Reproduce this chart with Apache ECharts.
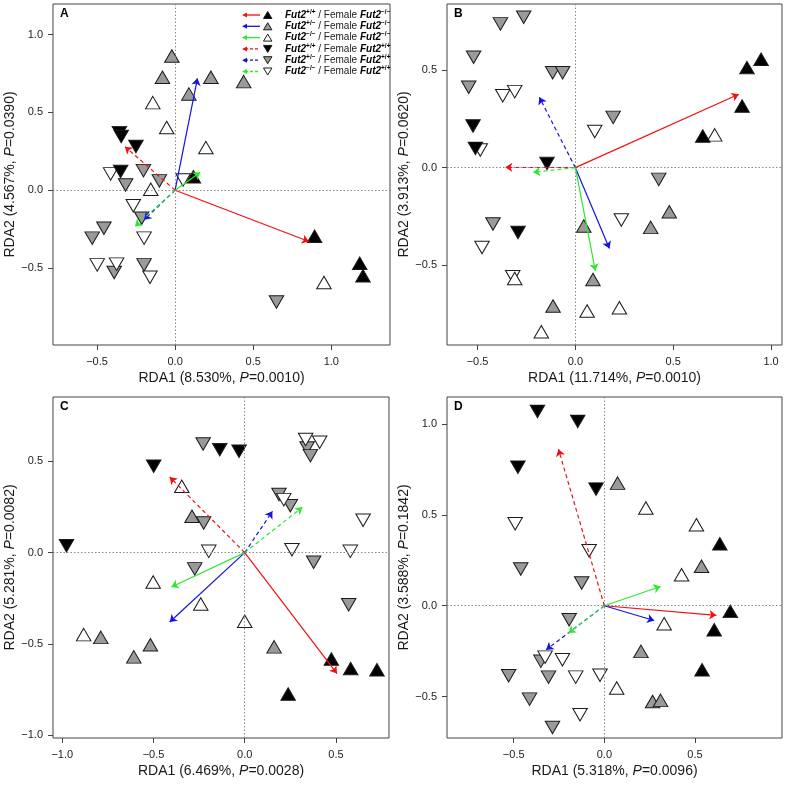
<!DOCTYPE html>
<html>
<head>
<meta charset="utf-8">
<script src="https://cdn.jsdelivr.net/npm/echarts@6/dist/echarts.min.js"></script>
<style>html,body{margin:0;padding:0;background:#fff}#c{width:787px;height:786px}</style>
</head>
<body>
<div id="c"></div>
<script>
// ---------- DATA ----------
// Groups: g1 Fut2+/+ / Female Fut2-/-, g2 Fut2+/- / Female Fut2-/-, g3 Fut2-/- / Female Fut2-/-,
//         g4 Fut2+/+ / Female Fut2+/+, g5 Fut2+/- / Female Fut2+/+, g6 Fut2-/- / Female Fut2+/+
const groupNames = ['Fut2+/+ / Female Fut2-/-','Fut2+/- / Female Fut2-/-','Fut2-/- / Female Fut2-/-',
                    'Fut2+/+ / Female Fut2+/+','Fut2+/- / Female Fut2+/+','Fut2-/- / Female Fut2+/+'];
const legendSup1 = ['+/+','+/\u2212','\u2212/\u2212','+/+','+/\u2212','\u2212/\u2212'];
const legendSup2 = ['\u2212/\u2212','\u2212/\u2212','\u2212/\u2212','+/+','+/+','+/+'];

// Panel A
const A_g1 = [[0.117,0.087],[0.893,-0.296],[1.182,-0.469],[1.203,-0.55]];
const A_g2 = [[-0.021,0.863],[-0.081,0.726],[0.229,0.726],[0.439,0.698],[0.088,0.619]];
const A_g3 = [[-0.143,0.563],[-0.054,0.403],[0.197,0.274],[-0.156,0.006],[0.953,-0.593]];
const A_g4 = [[-0.357,0.37],[-0.345,0.345],[-0.251,0.281],[-0.349,0.12]];
const A_g5 = [[-0.203,0.126],[-0.317,0.034],[-0.101,0.06],[-0.214,-0.18],[-0.456,-0.244],[-0.531,-0.308],[-0.39,-0.529],[-0.199,-0.48],[0.649,-0.719]];
const A_g6 = [[0.051,0.066],[-0.413,0.105],[-0.268,-0.1],[-0.199,-0.308],[-0.499,-0.48],[-0.375,-0.475],[-0.161,-0.559]];
const A_arrows = [[0.857,-0.33],[0.143,0.719],[0.161,0.116],[-0.321,0.28],[-0.199,-0.19],[-0.257,-0.233]];

// Panel B
const B_g1 = [[0.949,0.556],[0.877,0.513],[0.852,0.316],[0.651,0.162]];
const B_g2 = [[0.043,-0.299],[0.385,-0.306],[0.48,-0.226],[0.09,-0.573],[-0.114,-0.709]];
const B_g3 = [[0.712,0.168],[0.06,-0.735],[0.225,-0.718],[-0.174,-0.841],[-0.31,-0.568]];
const B_g4 = [[-0.523,0.214],[-0.511,0.099],[-0.145,0.022],[-0.293,-0.332]];
const B_g5 = [[-0.264,0.771],[-0.383,0.737],[-0.52,0.566],[-0.545,0.412],[-0.116,0.487],[-0.065,0.487],[0.193,0.258],[0.426,-0.06],[-0.421,-0.289]];
const B_g6 = [[-0.371,0.369],[-0.31,0.39],[-0.486,0.091],[0.099,0.185],[0.235,-0.268],[-0.477,-0.409],[-0.32,-0.559]];
const B_arrows = [[0.835,0.376],[0.174,-0.414],[0.102,-0.528],[-0.358,0.002],[-0.184,0.361],[-0.216,-0.024]];

// Panel C
const C_g1 = [[0.475,-0.582],[0.581,-0.635],[0.725,-0.641],[0.238,-0.774]];
const C_g2 = [[-0.289,0.199],[0.161,-0.516],[-0.517,-0.504],[-0.789,-0.464],[-0.608,-0.571]];
const C_g3 = [[-0.345,0.363],[-0.502,-0.161],[-0.241,-0.281],[0.0,-0.376],[-0.883,-0.449]];
const C_g4 = [[-0.977,0.038],[-0.499,0.473],[-0.137,0.564],[-0.031,0.555]];
const C_g5 = [[-0.228,0.595],[-0.225,0.162],[-0.274,-0.089],[0.342,0.573],[0.36,0.531],[0.188,0.318],[0.25,0.257],[0.378,-0.053],[0.57,-0.285]];
const C_g6 = [[0.334,0.619],[0.411,0.604],[0.214,0.29],[-0.197,0.007],[0.259,0.016],[0.579,0.007],[0.649,0.177]];
const C_arrows = [[0.506,-0.662],[-0.411,-0.38],[-0.402,-0.188],[-0.411,0.414],[0.152,0.226],[0.316,0.248]];

// Panel D
const D_g1 = [[0.637,0.341],[0.695,-0.031],[0.606,-0.132],[0.539,-0.352]];
const D_g2 = [[0.073,0.675],[0.536,0.217],[0.202,-0.251],[0.266,-0.527],[0.31,-0.521]];
const D_g3 = [[0.229,0.538],[0.508,0.446],[0.426,0.171],[0.33,-0.099],[0.068,-0.453]];
const D_g4 = [[-0.369,1.07],[-0.147,1.015],[-0.477,0.763],[-0.046,0.642]];
const D_g5 = [[-0.461,0.202],[-0.125,0.125],[-0.194,-0.077],[-0.35,-0.306],[-0.528,-0.385],[-0.308,-0.393],[-0.413,-0.514],[-0.286,-0.67]];
const D_g6 = [[-0.492,0.451],[-0.084,0.303],[-0.327,-0.283],[-0.231,-0.297],[-0.158,-0.393],[-0.024,-0.383],[-0.134,-0.6]];
const D_arrows = [[0.618,-0.053],[0.275,-0.081],[0.31,0.106],[-0.253,0.862],[-0.321,-0.242],[-0.198,-0.15]];

// Ticks
const A_xTicks = [-0.5,0,0.5,1.0], A_yTicks = [-0.5,0,0.5,1.0];
const B_xTicks = [-0.5,0,0.5,1.0], B_yTicks = [-0.5,0,0.5];
const C_xTicks = [-1.0,-0.5,0,0.5], C_yTicks = [-1.0,-0.5,0,0.5];
const D_xTicks = [-0.5,0,0.5], D_yTicks = [-0.5,0,0.5,1.0];

// Axis titles
const A_xTitle = ['RDA1 (8.530%, ','P','=0.0010)'], A_yTitle = ['RDA2 (4.567%, ','P','=0.0390)'];
const B_xTitle = ['RDA1 (11.714%, ','P','=0.0010)'], B_yTitle = ['RDA2 (3.913%, ','P','=0.0620)'];
const C_xTitle = ['RDA1 (6.469%, ','P','=0.0028)'], C_yTitle = ['RDA2 (5.281%, ','P','=0.0082)'];
const D_xTitle = ['RDA1 (5.318%, ','P','=0.0096)'], D_yTitle = ['RDA2 (3.588%, ','P','=0.1842)'];
const panelLabels = ['A','B','C','D'];

// ---------- STYLE / LAYOUT ----------
const FONT = "'Liberation Sans', Arial, Helvetica, sans-serif";
const RED = '#f01010', BLUE = '#1414e0', GREEN = '#2ee82e';
const GROUP_STYLE = [
  {fill:'#000000', rot:0,   color:RED,   dash:'solid'},
  {fill:'#9a9a9a', rot:0,   color:BLUE,  dash:'solid'},
  {fill:'#ffffff', rot:0,   color:GREEN, dash:'solid'},
  {fill:'#000000', rot:180, color:RED,   dash:[4,3]},
  {fill:'#9a9a9a', rot:180, color:BLUE,  dash:[4,3]},
  {fill:'#ffffff', rot:180, color:GREEN, dash:[4,3]}
];
const PANELS = [
  {grid:{left:53, top:4, width:337, height:341},  xr:[-0.782,1.376], yr:[-0.995,1.197], xt:A_xTicks, yt:A_yTicks, xn:A_xTitle, yn:A_yTitle, groups:[A_g1,A_g2,A_g3,A_g4,A_g5,A_g6], arrows:A_arrows},
  {grid:{left:447, top:4, width:335, height:341}, xr:[-0.656,1.056], yr:[-0.909,0.839], xt:B_xTicks, yt:B_yTicks, xn:B_xTitle, yn:B_yTitle, groups:[B_g1,B_g2,B_g3,B_g4,B_g5,B_g6], arrows:B_arrows},
  {grid:{left:53, top:397, width:336, height:341}, xr:[-1.051,0.791], yr:[-1.015,0.852], xt:C_xTicks, yt:C_yTicks, xn:C_xTitle, yn:C_yTitle, groups:[C_g1,C_g2,C_g3,C_g4,C_g5,C_g6], arrows:C_arrows},
  {grid:{left:447, top:397, width:335, height:341}, xr:[-0.868,0.98], yr:[-0.728,1.149], xt:D_xTicks, yt:D_yTicks, xn:D_xTitle, yn:D_yTitle, groups:[D_g1,D_g2,D_g3,D_g4,D_g5,D_g6], arrows:D_arrows}
];
const DRAW_ORDER = [4,5,1,2,3,0];

function fmt(v){ return (v<0?'\u2212':'') + Math.abs(v).toFixed(1); }
function titleText(t){ return t[0] + '{i|' + t[1] + '}' + t[2]; }
const nameStyle = {fontSize:14, color:'#1a1a1a', fontFamily:FONT,
  rich:{i:{fontStyle:'italic', fontSize:14, color:'#1a1a1a', fontFamily:FONT}}};

const grids=[], xAxes=[], yAxes=[], series=[];
PANELS.forEach((p,i)=>{
  grids.push(Object.assign({show:true, borderColor:'#444', borderWidth:1, backgroundColor:'transparent', containLabel:false}, p.grid));
  const common = {
    gridIndex:i, type:'value', scale:false,
    axisLine:{show:false, onZero:false},
    axisTick:{show:true, length:5, lineStyle:{color:'#444', width:1}, customValues:null},
    axisLabel:{fontSize:11, color:'#222', fontFamily:FONT, formatter:fmt},
    splitLine:{show:false},
    nameLocation:'middle', nameTextStyle:nameStyle
  };
  xAxes.push(Object.assign({}, common, {
    min:p.xr[0], max:p.xr[1], position:'bottom',
    axisTick:Object.assign({}, common.axisTick, {customValues:p.xt}),
    axisLabel:Object.assign({}, common.axisLabel, {customValues:p.xt, margin:11}),
    name:titleText(p.xn), nameGap:26
  }));
  yAxes.push(Object.assign({}, common, {
    min:p.yr[0], max:p.yr[1], position:'left',
    axisTick:Object.assign({}, common.axisTick, {customValues:p.yt}),
    axisLabel:Object.assign({}, common.axisLabel, {customValues:p.yt, margin:10}),
    name:titleText(p.yn), nameGap:33, nameRotate:90
  }));
  // zero reference lines
  series.push({type:'scatter', xAxisIndex:i, yAxisIndex:i, data:[], z:1, silent:true,
    markLine:{silent:true, symbol:'none', label:{show:false}, animation:false,
      lineStyle:{type:[1.5,2], color:'#8a8a8a', width:1},
      data:[{xAxis:0},{yAxis:0}]}});
  DRAW_ORDER.forEach(g=>{
    const s = GROUP_STYLE[g];
    series.push({type:'scatter', name:groupNames[g], xAxisIndex:i, yAxisIndex:i, z:3,
      data:p.groups[g], symbol:'triangle', symbolSize:[14.5,12.5], symbolRotate:s.rot,
      itemStyle:{color:s.fill, borderColor:'#1a1a1a', borderWidth:1, opacity:1},
      emphasis:{disabled:true}, animation:false});
  });
  p.arrows.forEach((end,g)=>{
    const s = GROUP_STYLE[g];
    series.push({type:'lines', coordinateSystem:'cartesian2d', xAxisIndex:i, yAxisIndex:i, z:5,
      symbol:['none','arrow'], symbolSize:7, silent:true, animation:false,
      lineStyle:{color:s.color, width:1.2, type:s.dash, opacity:1},
      data:[{coords:[[0,0], end]}]});
  });
});

// panel letters + legend (graphic)
const graphics = [];
PANELS.forEach((p,i)=>{
  graphics.push({type:'text', left:p.grid.left+7, top:p.grid.top+4,
    style:{text:panelLabels[i], font:'bold 12px '+FONT, fill:'#000'}});
});
const LEG_X0 = 242, LEG_X1 = 260, LEG_TRI = 267.7, LEG_TXT = 285, LEG_Y0 = 15, LEG_DY = 11.3;
for(let g=0; g<6; g++){
  const s = GROUP_STYLE[g], y = LEG_Y0 + g*LEG_DY;
  graphics.push({type:'line', shape:{x1:LEG_X0+3, y1:y, x2:LEG_X1, y2:y},
    style:{stroke:s.color, lineWidth:1.3, lineDash: s.dash==='solid'?null:[3,2]}, z:10});
  graphics.push({type:'polygon', shape:{points:[[LEG_X0,y],[LEG_X0+5,y-2.5],[LEG_X0+5,y+2.5]]},
    style:{fill:s.color}, z:10});
  const pts = s.rot===0 ? [[LEG_TRI-4.2,y+3.5],[LEG_TRI,y-3.5],[LEG_TRI+4.2,y+3.5]]
                        : [[LEG_TRI-4.2,y-3.5],[LEG_TRI,y+3.5],[LEG_TRI+4.2,y-3.5]];
  graphics.push({type:'polygon', shape:{points:pts},
    style:{fill:s.fill, stroke:'#1a1a1a', lineWidth:1}, z:10});
  graphics.push({type:'text', x:LEG_TXT, y:y, z:10,
    style:{text:'{b|Fut2}{s|'+legendSup1[g]+'}{n| / Female }{b|Fut2}{s|'+legendSup2[g]+'}',
      verticalAlign:'middle', textVerticalAlign:'middle',
      rich:{
        b:{fontFamily:FONT, fontWeight:'bold', fontStyle:'italic', fontSize:10, fill:'#000', color:'#000'},
        n:{fontFamily:FONT, fontSize:10, fill:'#222', color:'#222'},
        s:{fontFamily:FONT, fontWeight:'bold', fontSize:6.5, fill:'#000', color:'#000', padding:[0,0,6,0]}
      }}});
}

const chart = echarts.init(document.getElementById('c'), null, {renderer:'canvas'});
chart.setOption({
  animation:false, backgroundColor:'#fff',
  textStyle:{fontFamily:FONT},
  grid:grids, xAxis:xAxes, yAxis:yAxes, series:series, graphic:graphics
});
</script>
</body>
</html>
